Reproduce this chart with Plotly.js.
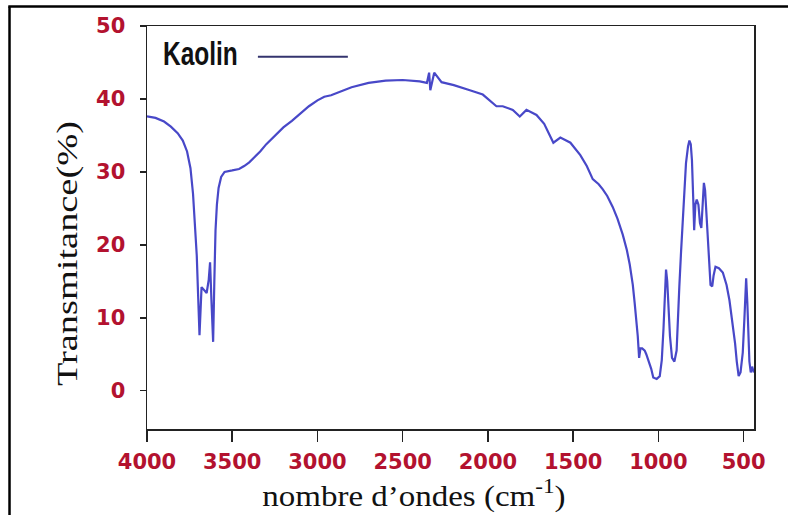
<!DOCTYPE html>
<html>
<head>
<meta charset="utf-8">
<script src="https://cdn.plot.ly/plotly-3.0.1.min.js"></script>
<style>
  html, body { margin: 0; padding: 0; background: #ffffff; }
  #chart { width: 788px; height: 515px; }
</style>
</head>
<body>
<div id="chart"></div>
<script>
// FTIR spectrum of kaolin: wavenumber (cm-1) vs transmittance (%)
const wavenumber = [
  4000, 3950, 3900, 3860, 3820, 3790, 3765, 3745, 3730, 3718, 3708, 3700,
  3692, 3680, 3665, 3650, 3638, 3630, 3622, 3612, 3605, 3598, 3590, 3580,
  3565, 3545, 3500, 3460, 3430, 3400, 3370, 3336, 3300, 3250, 3200, 3150,
  3100, 3050, 3000, 2960, 2920, 2880, 2800, 2700, 2600, 2500, 2400, 2358,
  2345, 2338, 2315, 2272, 2200, 2106, 2030, 1950, 1913, 1854, 1813, 1774,
  1715, 1670, 1634, 1616, 1575, 1516, 1458, 1420, 1385, 1350, 1326, 1300,
  1268, 1240, 1209, 1185, 1168, 1150, 1139, 1128, 1121, 1113, 1105, 1095,
  1080, 1071, 1055, 1042, 1030, 1010, 992, 980, 970, 962, 955, 948,
  940, 932, 920, 906, 893, 885, 877, 867, 857, 848, 838, 826,
  818, 810, 803, 795, 790, 783, 775, 765, 756, 748, 741, 733,
  726, 718, 710, 702, 694, 684, 676, 665, 645, 622, 600, 583,
  565, 550, 540, 529, 518, 505, 495, 485, 478, 472, 466, 458,
  450, 440
];
const transmittance = [
  37.6, 37.4, 36.9, 36.2, 35.3, 34.3, 32.8, 30.5, 27.0, 23.0, 18.5, 13.0,
  7.6, 14.2, 13.8, 13.4, 15.2, 17.6, 12.4, 6.7, 15.0, 22.0, 25.5, 27.8,
  29.3, 30.0, 30.2, 30.4, 30.8, 31.3, 32.0, 32.8, 33.8, 35.0, 36.1, 37.0,
  38.0, 39.0, 39.8, 40.3, 40.5, 40.9, 41.6, 42.2, 42.5, 42.6, 42.4, 42.2,
  43.6, 41.2, 43.6, 42.3, 41.9, 41.2, 40.6, 39.0, 39.0, 38.5, 37.6, 38.5,
  37.8, 36.6, 34.8, 34.0, 34.7, 34.0, 32.3, 30.8, 29.0, 28.3, 27.6, 26.7,
  25.2, 23.6, 21.4, 19.3, 17.3, 14.5, 12.0, 9.5, 7.5, 4.5, 5.8, 5.8,
  5.5, 5.0, 4.0, 3.0, 1.8, 1.6, 2.0, 4.2, 8.5, 12.9, 16.6, 15.0,
  11.5, 7.5, 4.5, 4.0, 5.5, 9.0, 14.3, 19.0, 23.4, 28.0, 31.2, 33.5,
  34.3, 33.8, 31.6, 26.0, 22.0, 25.5, 26.2, 25.5, 23.0, 22.3, 25.5, 28.5,
  27.5, 24.0, 20.0, 17.0, 14.5, 14.3, 15.8, 17.0, 16.8, 16.2, 14.5, 12.4,
  9.5, 6.5, 4.0, 2.0, 2.5, 5.2, 10.0, 15.4, 12.0, 7.0, 4.0, 2.5,
  3.3, 2.5
];

const xTicks = [4000, 3500, 3000, 2500, 2000, 1500, 1000, 500];
const yTicks = [0, 10, 20, 30, 40, 50];
const seriesName = 'Kaolin';
const xTitle = 'nombre d’ondes (cm<sup>-1</sup>)';
const yTitle = 'Transmitance(%)';

const tickFont = { family: 'DejaVu Sans', size: 21, color: '#b3122f', weight: 'bold' };
const serif = 'Liberation Serif, Times New Roman, serif';

const trace = {
  x: wavenumber,
  y: transmittance,
  type: 'scatter',
  mode: 'lines',
  name: seriesName,
  line: { color: '#4848c8', width: 2.2 },
  showlegend: false
};

const layout = {
  width: 788,
  height: 515,
  paper_bgcolor: '#ffffff',
  plot_bgcolor: '#ffffff',
  margin: { l: 147, r: 34, t: 26, b: 86 },
  xaxis: {
    range: [4000, 439],
    tickvals: xTicks,
    ticktext: xTicks.map(String),
    ticks: 'outside',
    ticklen: 11,
    tickwidth: 1.5,
    tickcolor: '#222222',
    showline: true,
    linecolor: '#222222',
    linewidth: 1.5,
    mirror: true,
    showgrid: false,
    zeroline: false,
    tickfont: tickFont,
    ticklabelstandoff: 2
  },
  yaxis: {
    range: [-5.25, 50],
    tickvals: yTicks,
    ticktext: yTicks.map(String),
    ticks: 'outside',
    ticklen: 6,
    tickwidth: 1.5,
    tickcolor: '#222222',
    showline: true,
    linecolor: '#222222',
    linewidth: 1.5,
    mirror: true,
    showgrid: false,
    zeroline: false,
    tickfont: tickFont,
    ticklabelstandoff: 10
  },
  shapes: [
    // outer frame (top and left edges)
    { type: 'line', xref: 'paper', yref: 'paper', x0: -0.2265, x1: -0.2265, y0: -0.3, y1: 1.0484,
      line: { color: '#000000', width: 2.5 } },
    { type: 'line', xref: 'paper', yref: 'paper', x0: -0.2285, x1: 1.2, y0: 1.0484, y1: 1.0484,
      line: { color: '#000000', width: 2.5 } },
    // legend sample line
    { type: 'line', xref: 'paper', yref: 'paper', x0: 0.1827, x1: 0.3309, y0: 0.9238, y1: 0.9238,
      line: { color: '#34346e', width: 2 } }
  ],
  annotations: [
    { text: '<b>' + seriesName + '</b>', xref: 'paper', yref: 'paper', x: 0.023, y: 0.933,
      xanchor: 'left', yanchor: 'middle', showarrow: false,
      font: { family: 'Liberation Sans, Arial, sans-serif', size: 34, color: '#111111' } },
    { text: xTitle, xref: 'paper', yref: 'paper', x: 0.4395, y: -0.161,
      xanchor: 'center', yanchor: 'middle', showarrow: false,
      font: { family: serif, size: 30, color: '#111111' } },
    { text: yTitle, xref: 'paper', yref: 'paper', x: -0.1317, y: 0.434,
      xanchor: 'center', yanchor: 'middle', textangle: -90, showarrow: false,
      font: { family: serif, size: 30, color: '#111111' } }
  ]
};

// horizontal scale applied to each annotation text (condensed legend label, wide axis titles)
const textStretch = [
  { sx: 0.72, origin: '0% 50%' },
  { sx: 1.10, origin: '50% 50%' },
  { sx: 1.28, origin: '50% 50%' }
];

Plotly.newPlot('chart', [trace], layout, { displayModeBar: false, staticPlot: true }).then(function (gd) {
  const texts = gd.querySelectorAll('.annotation-text');
  texts.forEach(function (t, i) {
    const s = textStretch[i];
    if (!s) return;
    t.style.transformBox = 'fill-box';
    t.style.transformOrigin = s.origin;
    t.style.transform = 'scaleX(' + s.sx + ')';
  });
});
</script>
</body>
</html>
